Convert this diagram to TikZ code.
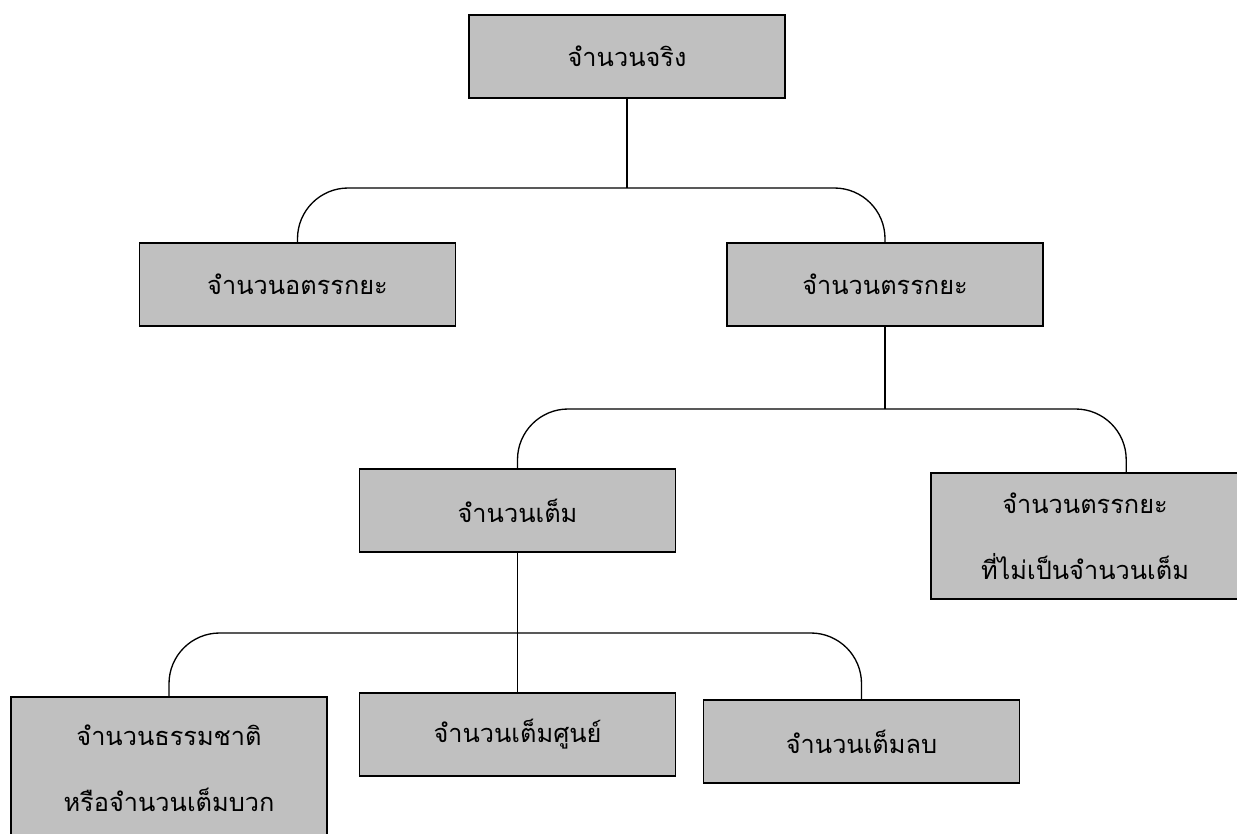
\documentclass[tikz,border=0pt]{standalone}
\usepackage{fontspec}
\newfontfamily\thaifont[Script=Thai]{Loma}
\usetikzlibrary{positioning,calc}
\definecolor{cBox}{HTML}{C0C0C0}
\definecolor{cInk}{HTML}{000000}
\tikzset{
  box/.style={rectangle,draw=cInk,fill=cBox,line width=1.2pt,minimum width=237pt,minimum height=62.25pt,inner sep=0pt,align=center,font=\thaifont\fontsize{19}{49.5}\selectfont},
  tallbox/.style={box,minimum height=94.5pt},
  link/.style={draw=cInk,line width=1pt,rounded corners=38pt},
}

\begin{document}
\begin{tikzpicture}[x=0.75pt,y=-0.75pt]
  \useasboundingbox (0,0) rectangle (1237,834);
  \clip (0,0) rectangle (1237,834);
  \node[box] (real) at (627,56.5) {จำนวนจริง};
  \node[box] (irr) at (297.5,284.5) {จำนวนอตรรกยะ};
  \node[box] (rat) at (885,284.5) {จำนวนตรรกยะ};
  \node[box] (int) at (517.5,510.5) {จำนวนเต็ม};
  \node[tallbox,minimum width=231pt] (nonint) at (1085,536) {จำนวนตรรกยะ\\ที่ไม่เป็นจำนวนเต็ม};
  \node[tallbox,minimum height=106.5pt] (nat) at (169,768) {จำนวนธรรมชาติ\\หรือจำนวนเต็มบวก};
  \node[box] (zero) at (517.5,734.5) {จำนวนเต็มศูนย์};
  \node[box] (neg) at (861.5,741.5) {จำนวนเต็มลบ};
  \coordinate (j1) at (627,188);
  \coordinate (j2) at (885,409);
  \coordinate (j3) at (517.5,633);
  \coordinate (nonintTop) at ($(nonint.north west)+(196,0)$);
  \draw[link] (real.south) -- (j1);
  \draw[link] (irr.north) |- (j1) -| (rat.north);
  \draw[link] (rat.south) -- (j2);
  \draw[link] (int.north) |- (j2) -| (nonintTop);
  \draw[link] (int.south) -- (zero.north);
  \draw[link] (nat.north) |- (j3) -| (neg.north);
\end{tikzpicture}
\end{document}
